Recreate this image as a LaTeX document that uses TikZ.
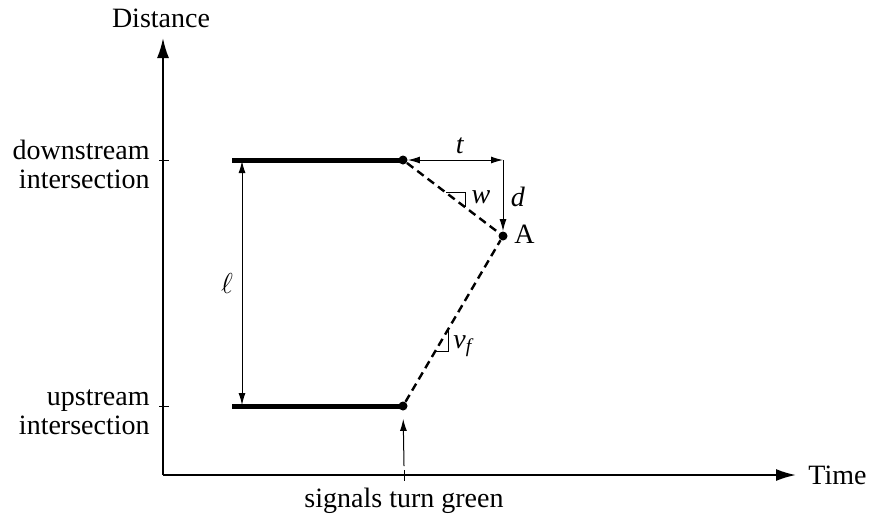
\documentclass[tikz,border=0pt]{standalone}
\usepackage{fontspec}
\setmainfont{Liberation Serif}
\usetikzlibrary{arrows.meta}
\tikzset{
  axisline/.style={line width=1pt,-{Latex[length=10pt,width=6pt]}},
  roadline/.style={line width=2.5pt},
  dimarrow/.style={line width=0.5pt,{Latex[length=6pt,width=3.5pt]}-{Latex[length=6pt,width=3.5pt]}},
  markarrow/.style={line width=0.5pt,-{Latex[length=6pt,width=3.5pt]}},
  wavepath/.style={line width=1.2pt,dash pattern=on 4pt off 2.5pt},
  tickmark/.style={line width=0.5pt},
  slopemark/.style={line width=0.5pt},
  dot/.style={circle,fill,inner sep=0pt,minimum size=4.5pt}
}
\begin{document}
\begin{tikzpicture}[x=0.5pt,y=-0.5pt, every node/.style={font=\fontsize{14}{14.5}\selectfont}]
\useasboundingbox (0,0) rectangle (870,516);
% axes
\coordinate (origin) at (163,475);
\coordinate (ytop) at (163,38);
\coordinate (xend) at (796,475);
\draw[axisline] (origin) -- (ytop);
\draw[axisline] (origin) -- (xend);
\node[anchor=base, inner sep=0pt] (distlabel) at (161,27) {Distance};
\node[anchor=base west, inner sep=0pt] (timelabel) at (808,484) {Time};
% ticks
\draw[tickmark] (159,160) -- (169,160);
\draw[tickmark] (159,406) -- (169,406);
\draw[tickmark] (404,470) -- (404,481);
\node[anchor=base east, align=right, inner sep=0pt] (downlabel) at (150,188) {downstream\\intersection};
\node[anchor=base east, align=right, inner sep=0pt] (uplabel) at (150,434) {upstream\\intersection};
% queues at the two intersections
\node[dot] (downdot) at (403,160) {};
\node[dot] (updot) at (403,406) {};
\node[dot] (adot) at (503,236) {};
\node[anchor=base west, inner sep=0pt] (alabel) at (514,243) {A};
\draw[roadline] (232,160) -- (downdot.center);
\draw[roadline] (232,406) -- (updot.center);
% spacing
\draw[dimarrow] (242,161) -- (242,405);
\node (elllabel) at (227,283) {$\ell$};
\coordinate (tcorner) at (503,160);
\draw[dimarrow] (downdot) -- (tcorner);
\node (tlabel) at (460,146) {\textit{t}};
\draw[markarrow] (tcorner) -- (adot);
\node (dlabel) at (518,197) {\textit{d}};
% waves
\draw[wavepath] (downdot) -- (adot);
\draw[wavepath] (updot) -- (adot);
\draw[slopemark] (446,192.7) -- (465,192.7) -- (465,207.1);
\node (wlabel) at (481,197) {\textit{w}};
\draw[slopemark] (435.4,351) -- (448,351) -- (448,329.5);
\node (vflabel) at (464,346) {\textit{v}\textsubscript{\textit{f}}};
% green
\draw[markarrow, shorten >=4pt] (404,466) -- (updot);
\node[anchor=base, inner sep=0pt] (greenlabel) at (404,507) {signals turn green};
\end{tikzpicture}
\end{document}
